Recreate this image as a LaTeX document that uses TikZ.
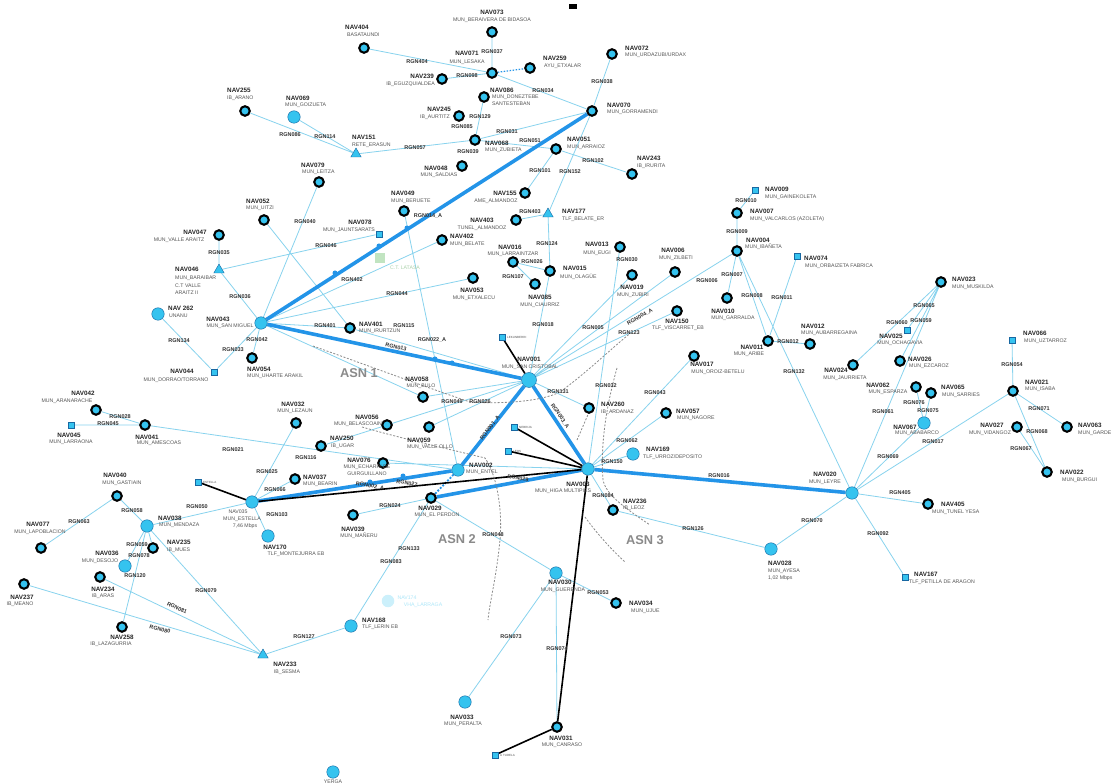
\documentclass[tikz,border=0pt]{standalone}
\usepackage{fontspec}
\setmainfont{Liberation Sans}
\usetikzlibrary{shapes.geometric}
\definecolor{ncyan}{HTML}{35C3EF}
\definecolor{thickb}{HTML}{2394E8}
\definecolor{thinb}{HTML}{88D3EE}
\definecolor{subg}{HTML}{555555}
\definecolor{asng}{HTML}{8A8A8A}
\pgfdeclarelayer{bg}
\pgfsetlayers{bg,main}
\newcounter{lc}
\newcommand\NT[4][center]{\stepcounter{lc}\node[nt,anchor=#1] (t\arabic{lc}) at (#2,#3) {#4};}
\newcommand\ST[4][center]{\stepcounter{lc}\node[st,anchor=#1] (s\arabic{lc}) at (#2,#3) {#4};}
\newcommand\RG[4][0]{\stepcounter{lc}\node[rg,rotate=#1] (r\arabic{lc}) at (#2,#3) {#4};}
\newcommand\BP[2]{\stepcounter{lc}\node[bump] (b\arabic{lc}) at (#1,#2) {};}
\tikzset{
 ring/.style={circle, draw=black, line width=2.1pt, fill=ncyan, minimum size=9.5pt, inner sep=0},
 big/.style={circle, draw=thickb!70!black, line width=0.4pt, fill=ncyan, minimum size=12.5pt, inner sep=0},
 sq/.style={rectangle, draw=thickb!70!black, line width=0.4pt, fill=ncyan, minimum size=6.5pt, inner sep=0},
 tri/.style={regular polygon, regular polygon sides=3, draw=thickb!70!black, line width=0.4pt, fill=ncyan, minimum size=12pt, inner sep=0},
 bump/.style={circle, fill=thickb, minimum size=5pt, inner sep=0},
 nt/.style={font=\bfseries\fontsize{6.3}{6.3}\selectfont, text=black!85, inner sep=0},
 st/.style={font=\fontsize{5.2}{5.2}\selectfont, text=subg, inner sep=0},
 rg/.style={font=\bfseries\fontsize{5.5}{5.5}\selectfont, text=black!80, inner sep=0.3pt},
 tiny/.style={font=\fontsize{3}{3}\selectfont, text=subg, inner sep=0},
 tl/.style={draw=thinb, line width=0.8pt},
 tk/.style={draw=thickb, line width=3.6pt},
 bk/.style={draw=black, line width=1.6pt},
 bdash/.style={draw=asng, line width=0.8pt, dash pattern=on 2pt off 1.6pt},
 asn/.style={font=\bfseries\fontsize{12.8}{12.8}\selectfont, text=asng, inner sep=0},
}
\begin{document}
\begin{tikzpicture}[x=1pt,y=-1pt]
\useasboundingbox (0,0) rectangle (1112,783);
\fill[black] (569,4) rectangle (577,9);
% ---------- nodes
\node[ring] (n073) at (492,32) {};
\node[ring] (n404) at (364,48) {};
\node[ring] (n071) at (492,73) {};
\node[ring] (n259) at (530,68) {};
\node[ring] (n239) at (442,79) {};
\node[ring] (n086) at (484,97) {};
\node[ring] (n245) at (459,116) {};
\node[ring] (n068) at (475,140) {};
\node[ring] (n048) at (462,166) {};
\node[big] (n069) at (294,117) {};
\node[ring] (n255) at (245,111) {};
\node[tri] (n151) at (356,154) {};
\node[ring] (n079) at (319,182) {};
\node[ring] (n072) at (612,54) {};
\node[ring] (n070) at (592,111) {};
\node[ring] (n051) at (556,149) {};
\node[ring] (n243) at (632,174) {};
\node[ring] (n155) at (525,193) {};
\node[ring] (n403) at (516,220) {};
\node[tri] (n177) at (548,214) {};
\node[ring] (n049) at (404,211) {};
\node[sq] (n078) at (379,234) {};
\node[ring] (n402) at (442,240) {};
\node[ring] (n016) at (513,262) {};
\node[ring] (n015) at (550,271) {};
\node[ring] (n053) at (473,278) {};
\node[ring] (n085) at (535,284) {};
\node[ring] (n013) at (620,247) {};
\node[ring] (n006) at (675,272) {};
\node[ring] (n019) at (632,275) {};
\node[ring] (n150) at (677,311) {};
\node[ring] (n010) at (727,298) {};
\node[ring] (n004) at (737,251) {};
\node[ring] (n007) at (737,213) {};
\node[sq] (n009) at (755,190) {};
\node[sq] (n074) at (797,256) {};
\node[ring] (n011) at (768,341) {};
\node[ring] (n012) at (810,344) {};
\node[ring] (n017) at (694,356) {};
\node[ring] (n260) at (589,408) {};
\node[ring] (n057) at (666,413) {};
\node[big] (n169) at (633,454) {};
\node[big] (n003) at (588,469) {};
\node[ring] (n236) at (613,510) {};
\node[big] (n020) at (852,493) {};
\node[ring] (n405) at (928,504) {};
\node[sq] (n167) at (905,577) {};
\node[big] (n028) at (771,549) {};
\node[ring] (n023) at (941,282) {};
\node[sq] (n025) at (907,330) {};
\node[ring] (n024) at (853,365) {};
\node[ring] (n026) at (900,361) {};
\node[ring] (n062) at (916,387) {};
\node[ring] (n065) at (931,393) {};
\node[big] (n067) at (924,423) {};
\node[sq] (n066) at (1012,340) {};
\node[ring] (n021) at (1013,391) {};
\node[ring] (n027) at (1017,427) {};
\node[ring] (n063) at (1067,427) {};
\node[ring] (n022) at (1047,472) {};
\node[ring] (n052) at (264,220) {};
\node[ring] (n047) at (219,235) {};
\node[tri] (n046) at (219,270) {};
\node[big] (n262) at (158,314) {};
\node[big] (n043) at (261,323) {};
\node[ring] (n054) at (252,358) {};
\node[sq] (n044) at (214,372) {};
\node[ring] (n401) at (350,328) {};
\node[big, minimum size=15pt] (n001) at (529,380) {};
\node[sq] (lek) at (502,337) {};
\node[ring] (n058) at (423,397) {};
\node[ring] (n056) at (387,425) {};
\node[ring] (n059) at (429,427) {};
\node[ring] (n032) at (296,423) {};
\node[ring] (n250) at (321,446) {};
\node[ring] (n076) at (383,463) {};
\node[ring] (n037) at (295,479) {};
\node[big] (n002) at (458,470) {};
\node[ring] (n029) at (431,498) {};
\node[big] (n035) at (252,502) {};
\node[sq] (est) at (198,482) {};
\node[sq] (neb) at (514,427) {};
\node[sq] (leo) at (508,451) {};
\node[ring] (n039) at (353,515) {};
\node[big] (n170) at (268,536) {};
\node[big] (n168) at (351,626) {};
\node[circle, fill=ncyan!25, minimum size=12.5pt, inner sep=0] (n174) at (388,601) {};
\node[rectangle, fill=green!40!gray!35, minimum size=10pt, inner sep=0] (lat) at (380,258) {};
\node[tri] (n233) at (263,655) {};
\node[ring] (n042) at (96,410) {};
\node[sq] (n045) at (71,425) {};
\node[ring] (n041) at (145,425) {};
\node[ring] (n040) at (117,496) {};
\node[big] (n038) at (147,526) {};
\node[ring] (n077) at (41,548) {};
\node[ring] (n235) at (153,548) {};
\node[big] (n036) at (125,566) {};
\node[ring] (n234) at (100,577) {};
\node[ring] (n237) at (24,584) {};
\node[ring] (n258) at (122,627) {};
\node[big] (n030) at (556,573) {};
\node[ring] (n034) at (616,603) {};
\node[big] (n033) at (465,702) {};
\node[ring] (n031) at (557,727) {};
\node[sq] (tud) at (495,755) {};
\node[big] (yer) at (333,772) {};
% ---------- edges
\begin{pgfonlayer}{bg}
\fill[white] (0,0) rectangle (1112,783);
\path[tl] (n073)--(n071) (n404)--(n071) (n239)--(n071) (n071)--(n070)
 (n086)--(n068) (n068)--(n070) (n068)--(n051) (n068)--(n151)
 (n255)--(n151) (n069)--(n151) (n072)--(n070) (n070)--(n177)
 (n051)--(n243) (n051)--(n155) (n403)--(n177) (n177)--(n015) (n016)--(n015)
 (n015)--(n001) (n016)--(n085)
 (n047)--(n046) (n046)--(n043) (n046)--(n078) (n079)--(n043) (n052)--(n401)
 (n043)--(n402) (n043)--(n053) (n043)--(n401) (n043)--(n054) (n043)--(n044) (n044)--(n262)
 (n049)--(n002) (n401)--(n001) (n043)--(n058)
 (n001)--(n006) (n001)--(n004) (n001)--(n150) (n001)--(n019)
 (n004)--(n007) (n007)--(n009) (n004)--(n010) (n004)--(n011) (n004)--(n020) (n074)--(n011) (n011)--(n012)
 (n013)--(n003) (n017)--(n003) (n057)--(n003) (n260)--(n001) (n169)--(n003)
 (n236)--(n003) (n236)--(n028) (n028)--(n020) (n020)--(n405) (n020)--(n167)
 (n020)--(n023) (n020)--(n067) (n020)--(n021) (n023)--(n025) (n023)--(n024) (n023)--(n026)
 (n067)--(n062) (n067)--(n065) (n021)--(n066) (n021)--(n063) (n021)--(n022) (n027)--(n022)
 (n029)--(n030) (n030)--(n034) (n030)--(n031) (n030)--(n033) (n029)--(n168)
 (n168)--(n233) (n233)--(n038) (n233)--(n234) (n233)--(n237)
 (n038)--(n258) (n038)--(n035) (n038)--(n040) (n038)--(n235) (n038)--(n036) (n040)--(n077)
 (n035)--(n170) (n035)--(n032) (n041)--(n002) (n042)--(n041) (n045)--(n041) (n035)--(n037)
 (n029)--(n039) (n056)--(n001) (n059)--(n001) (n058)--(n001) (n250)--(n001) (n076)--(n003);
\draw[thickb, line width=1.2pt, dash pattern=on 1.5pt off 1.5pt] (n071)--(n259);
\draw[thickb, line width=1.8pt, dash pattern=on 2pt off 1.5pt] (n002)--(n029);
\path[tk] (n043)--(n070) (n043)--(n001) (n001)--(n002) (n001)--(n003) (n003)--(n020) (n035)--(n002) (n029)--(n003);
\path[bk] (n035)--(n003) (est)--(n035) (lek)--(n001) (neb)--(n003) (leo)--(n003) (n003)--(n031) (tud)--(n031);
\path[bdash] (313,346) .. controls (380,370) and (420,385) .. (470,402) .. controls (500,404) and (540,402) .. (560,392) .. controls (590,370) and (615,345) .. (632,332);
\path[bdash] (362,427) .. controls (400,438) and (440,447) .. (485,458) .. controls (500,480) and (502,520) .. (500,540) .. controls (496,580) and (490,600) .. (488,620);
\path[bdash] (617,368) .. controls (608,400) and (600,440) .. (603,480) .. controls (606,495) and (625,508) .. (650,525);
\path[bdash] (577,440) -- (590,410);
\path[bdash] (585,517) .. controls (598,535) and (612,550) .. (625,562);
\BP{335}{273} \BP{379}{246} \BP{407}{228} \BP{435}{359} \BP{452}{363} \BP{370}{482} \BP{403}{476}
\end{pgfonlayer}
% ---------- node labels
\NT{492}{12}{NAV073} \ST{492}{20}{MUN\_BERAIVERA DE BIDASOA}
\NT[west]{345}{27}{NAV404} \ST[west]{347}{35}{BASATAUNDI}
\NT{467}{53}{NAV071} \ST{467}{62}{MUN\_LESAKA}
\NT[west]{543}{58}{NAV259} \ST[west]{544}{66}{AYU\_ETXALAR}
\NT[east]{434}{76}{NAV239} \ST[east]{435}{84}{IB\_EGUZQUIALDEA}
\NT[west]{490}{90}{NAV086} \ST[west]{492}{97}{MUN\_DONEZTEBE} \ST[west]{492}{104}{SANTESTEBAN}
\NT[east]{451}{109}{NAV245} \ST[east]{450}{117}{IB\_AURTITZ}
\NT[west]{485}{143}{NAV068} \ST[west]{485}{150}{MUN\_ZUBIETA}
\NT{436}{168}{NAV048} \ST{439}{175}{MUN\_SALDIAS}
\NT[west]{286}{98}{NAV069} \ST[west]{285}{105}{MUN\_GOIZUETA}
\NT[west]{227}{90}{NAV255} \ST[west]{227}{98}{IB\_ARANO}
\NT[west]{352}{137}{NAV151} \ST[west]{352}{145}{RETE\_ERASUN}
\NT[west]{301}{165}{NAV079} \ST[west]{302}{172}{MUN\_LEITZA}
\NT[west]{391}{193}{NAV049} \ST[west]{391}{201}{MUN\_BERUETE}
\NT{360}{222}{NAV078} \ST{349}{230}{MUN\_JAUNTSARATS}
\NT[west]{450}{236}{NAV402} \ST[west]{450}{244}{MUN\_BELATE}
\NT{482}{220}{NAV403} \ST{482}{228}{TUNEL\_ALMANDOZ}
\NT{505}{193}{NAV155} \ST{496}{201}{AME\_ALMANDOZ}
\NT[west]{562}{211}{NAV177} \ST[west]{562}{219}{TLF\_BELATE\_ER}
\NT{510}{247}{NAV016} \ST{513}{254}{MUN\_LARRAINTZAR}
\NT[west]{625}{48}{NAV072} \ST[west]{625}{55}{MUN\_URDAZUBI/URDAX}
\NT[west]{607}{105}{NAV070} \ST[west]{607}{112}{MUN\_GORRAMENDI}
\NT[west]{567}{139}{NAV051} \ST[west]{567}{147}{MUN\_ARRAIOZ}
\NT[west]{637}{158}{NAV243} \ST[west]{637}{166}{IB\_IRURITA}
\NT[west]{765}{189}{NAV009} \ST[west]{765}{197}{MUN\_GAINEKOLETA}
\NT[west]{750}{211}{NAV007} \ST[west]{750}{219}{MUN\_VALCARLOS (AZOLETA)}
\NT[west]{746}{240}{NAV004} \ST[west]{745}{247}{MUN\_IBAÑETA}
\NT[west]{804}{258}{NAV074} \ST[west]{805}{266}{MUN\_ORBAIZETA FABRICA}
\NT{597}{244}{NAV013} \ST{597}{253}{MUN\_EUGI}
\NT{673}{250}{NAV006} \ST{676}{258}{MUN\_ZILBETI}
\NT[west]{563}{268}{NAV015} \ST[west]{560}{277}{MUN\_OLAGÜE}
\NT{632}{287}{NAV019} \ST{633}{295}{MUN\_ZUBIRI}
\NT{677}{321}{NAV150} \ST{678}{328}{TLF\_VISCARRET\_EB}
\NT{723}{311}{NAV010} \ST{733}{318}{MUN\_GARRALDA}
\NT{752}{347}{NAV011} \ST{749}{354}{MUN\_ARIBE}
\NT[west]{801}{326}{NAV012} \ST[west]{801}{333}{MUN\_AUBARREGAINA}
\NT{702}{364}{NAV017} \ST{718}{372}{MUN\_OROIZ-BETELU}
\NT[west]{601}{404}{NAV260} \ST[west]{601}{412}{IB\_ARDANAZ}
\NT[west]{676}{411}{NAV057} \ST[west]{677}{418}{MUN\_NAGORE}
\NT[west]{646}{449}{NAV169} \ST[west]{643}{457}{TLF\_URROZ/DEPOSITO}
\NT{578}{484}{NAV003} \ST{563}{491}{MUN\_HIGA MULTIPIES}
\NT[west]{623}{501}{NAV236} \ST[west]{623}{508}{IB\_LEOZ}
\NT{825}{474}{NAV020} \ST{825}{482}{MUN\_LEYRE}
\NT[west]{941}{504}{NAV405} \ST[west]{932}{512}{MUN\_TUNEL YESA}
\NT[west]{914}{574}{NAV167} \ST[west]{909}{582}{TLF\_PETILLA DE ARAGON}
\NT[west]{768}{563}{NAV028} \ST[west]{768}{571}{MUN\_AYESA} \ST[west]{768}{578}{1,02 Mbps}
\NT[west]{952}{279}{NAV023} \ST[west]{952}{287}{MUN\_MUSKILDA}
\NT{891}{336}{NAV025} \ST{900}{343}{MUN\_OCHAGAVIA}
\NT{836}{370}{NAV024} \ST{845}{378}{MUN\_JAURRIETA}
\NT[west]{908}{359}{NAV026} \ST[west]{909}{366}{MUN\_EZCAROZ}
\NT{878}{385}{NAV062} \ST{888}{392}{MUN\_ESPARZA}
\NT[west]{941}{387}{NAV065} \ST[west]{942}{395}{MUN\_SARRIES}
\NT{905}{427}{NAV067} \ST{917}{433}{MUN\_ABABARCO}
\NT[west]{1023}{333}{NAV066} \ST[west]{1024}{341}{MUN\_UZTARROZ}
\NT[west]{1025}{382}{NAV021} \ST[west]{1025}{389}{MUN\_ISABA}
\NT{992}{425}{NAV027} \ST{990}{433}{MUN\_VIDANGOZ}
\NT[west]{1078}{425}{NAV063} \ST[west]{1078}{433}{MUN\_GARDE}
\NT[west]{1060}{472}{NAV022} \ST[west]{1062}{480}{MUN\_BURGUI}
\NT[west]{246}{201}{NAV052} \ST[west]{246}{208}{MUN\_UITZI}
\NT{195}{232}{NAV047} \ST{179}{240}{MUN\_VALLE ARAITZ}
\NT[west]{175}{269}{NAV046} \ST[west]{175}{278}{MUN\_BARAIBAR} \ST[west]{175}{286}{C.T VALLE} \ST[west]{175}{293}{ARAITZ II}
\NT[west]{168}{308}{NAV 262} \ST[west]{169}{316}{UNANU}
\NT{218}{319}{NAV043} \ST{230}{326}{MUN\_SAN MIGUEL}
\NT[west]{247}{369}{NAV054} \ST[west]{247}{376}{MUN\_UHARTE ARAKIL}
\NT{182}{371}{NAV044} \ST{176}{380}{MUN\_DORRAO/TORRANO}
\NT{83}{393}{NAV042} \ST{67}{401}{MUN\_ARANARACHE}
\NT{69}{435}{NAV045} \ST{71}{442}{MUN\_LARRAONA}
\NT{147}{437}{NAV041} \ST{159}{443}{MUN\_AMESCOAS}
\NT{115}{475}{NAV040} \ST{122}{483}{MUN\_GASTIAIN}
\ST{238}{512}{NAV035} \ST{242}{519}{MUN\_ESTELLA} \ST{245}{526}{7,46 Mbps}
\NT{38}{524}{NAV077} \ST{40}{532}{MUN\_LAPOBLACION}
\NT[west]{158}{518}{NAV038} \ST[west]{159}{525}{MUN\_MENDAZA}
\NT[west]{167}{542}{NAV235} \ST[west]{167}{550}{IB\_MUES}
\NT{107}{553}{NAV036} \ST{100}{561}{MUN\_DESOJO}
\NT{103}{589}{NAV234} \ST{103}{596}{IB\_ARAS}
\NT{22}{597}{NAV237} \ST{20}{604}{IB\_MEANO}
\NT{122}{637}{NAV258} \ST{111}{644}{IB\_LAZAGURRIA}
\NT{285}{664}{NAV233} \ST{287}{672}{IB\_SESMA}
\NT{275}{547}{NAV170} \ST{296}{554}{TLF\_MONTEJURRA EB}
\NT[west]{362}{620}{NAV168} \ST[west]{362}{627}{TLF\_LERIN EB}
\NT{353}{529}{NAV039} \ST{359}{536}{MUN\_MAÑERU}
\NT{430}{508}{NAV029} \ST{437}{515}{MUN\_EL PERDON}
\NT[west]{469}{465}{NAV002} \ST[west]{466}{472}{MUN\_ENTEL}
\NT[west]{303}{477}{NAV037} \ST[west]{303}{484}{MUN\_BEARIN}
\NT{359}{460}{NAV076} \ST{367}{467}{MUN\_ECHARRI DE} \ST{367}{474}{GUIRGUILLANO}
\NT[west]{330}{438}{NAV250} \ST[west]{331}{446}{IB\_UGAR}
\NT{293}{404}{NAV032} \ST{295}{411}{MUN\_LEZAUN}
\NT{367}{417}{NAV056} \ST{358}{424}{MUN\_BELASCOAIN}
\NT{419}{440}{NAV059} \ST{430}{447}{MUN\_VALLE OLLO}
\NT{417}{379}{NAV058} \ST{421}{386}{MUN\_BULO}
\NT{529}{359}{NAV001} \ST{530}{367}{MUN\_SAN CRISTOBAL}
\NT[west]{359}{324}{NAV401} \ST[west]{359}{331}{MUN\_IRURTZUN}
\NT{472}{290}{NAV053} \ST{474}{298}{MUN\_ETXALECU}
\NT{540}{297}{NAV085} \ST{540}{305}{MUN\_CIAURRIZ}
\NT{560}{582}{NAV030} \ST{563}{590}{MUN\_GUERENDA}
\NT[west]{629}{603}{NAV034} \ST[west]{631}{611}{MUN\_UJUE}
\NT{462}{717}{NAV033} \ST{463}{724}{MUN\_PERALTA}
\NT{561}{738}{NAV031} \ST{562}{745}{MUN\_CANRASO}
\ST{333}{782}{YERGA}
\node[st, text=ncyan!40] (t174a) at (407,598) {NAV174};
\node[st, text=ncyan!40] (t174b) at (423,605) {VHA\_LARRAGA};
\node[st, text=green!30!gray!50] (tlat) at (405,268) {C.T. LATASA};
\node[tiny, anchor=west] (tlek) at (507,337) {LEKUNBERRI};
\node[tiny, anchor=west] (test) at (203,482) {ESTELLA};
\node[tiny, anchor=west] (tneb) at (519,427) {NEBRIJA};
\node[tiny, anchor=west] (tleo) at (513,451) {LEOS};
\node[tiny, anchor=west] (ttud) at (500,755) {A TUDELA};
% ---------- ASN
\node[asn] (asn1) at (359,373) {ASN 1};
\node[asn] (asn2) at (457,539) {ASN 2};
\node[asn] (asn3) at (645,540) {ASN 3};
% ---------- link labels
\RG{492}{52}{RGN037} \RG{417}{62}{RGN404} \RG{467}{76}{RGN098} \RG{543}{91}{RGN034}
\RG{480}{117}{RGN129} \RG{462}{127}{RGN085} \RG{507}{132}{RGN031} \RG{530}{141}{RGN051}
\RG{468}{152}{RGN039} \RG{290}{135}{RGN086} \RG{325}{137}{RGN114} \RG{415}{148}{RGN057}
\RG{602}{82}{RGN038} \RG{593}{161}{RGN102} \RG{570}{172}{RGN152} \RG{540}{171}{RGN101}
\RG{530}{212}{RGN403} \RG{547}{244}{RGN124} \RG{532}{262}{RGN026} \RG{513}{277}{RGN107}
\RG{746}{201}{RGN010} \RG{737}{232}{RGN009} \RG{627}{260}{RGN030} \RG{707}{281}{RGN006}
\RG{732}{275}{RGN007} \RG{752}{296}{RGN008} \RG{782}{298}{RGN011} \RG{593}{328}{RGN005}
\RG{629}{333}{RGN123} \RG[30]{640}{317}{RGN004\_A} \RG{788}{342}{RGN012} \RG{794}{372}{RGN132}
\RG{606}{386}{RGN032} \RG{655}{393}{RGN043} \RG{558}{392}{RGN131} \RG{627}{441}{RGN062}
\RG{612}{462}{RGN150} \RG{719}{476}{RGN016} \RG{603}{496}{RGN084} \RG{883}{412}{RGN061}
\RG{888}{457}{RGN069} \RG{933}{442}{RGN017} \RG{900}{493}{RGN405} \RG{924}{306}{RGN065}
\RG{897}{323}{RGN060} \RG{921}{321}{RGN059} \RG{914}{403}{RGN076} \RG{928}{411}{RGN075}
\RG{1012}{365}{RGN054} \RG{1039}{409}{RGN071} \RG{1037}{432}{RGN068} \RG{1021}{449}{RGN067}
\RG{878}{534}{RGN092} \RG{812}{521}{RGN070} \RG{693}{529}{RGN126} \RG{598}{593}{RGN053}
\RG{511}{637}{RGN073} \RG{557}{649}{RGN074} \RG{493}{535}{RGN048} \RG{409}{549}{RGN133}
\RG{391}{562}{RGN083} \RG{304}{637}{RGN127} \RG{206}{591}{RGN079} \RG[-25]{177}{608}{RGN081}
\RG[-15]{160}{629}{RGN080} \RG{135}{576}{RGN120} \RG{139}{556}{RGN078} \RG{137}{545}{RGN059}
\RG{79}{522}{RGN063} \RG{132}{511}{RGN058} \RG{197}{507}{RGN050} \RG{277}{515}{RGN103}
\RG{275}{490}{RGN066} \RG{267}{472}{RGN025} \RG{233}{450}{RGN021} \RG{120}{417}{RGN028}
\RG{108}{424}{RGN045} \RG{179}{341}{RGN134} \RG{233}{350}{RGN033} \RG{257}{340}{RGN042}
\RG{240}{297}{RGN036} \RG{219}{253}{RGN035} \RG{305}{222}{RGN040} \RG{326}{246}{RGN046}
\RG{428}{216}{RGN014\_A} \RG{352}{280}{RGN402} \RG{397}{294}{RGN044} \RG{325}{326}{RGN401}
\RG{404}{326}{RGN115} \RG{432}{340}{RGN022\_A} \RG[-12]{396}{347}{RGN013} \RG{543}{325}{RGN018}
\RG{306}{458}{RGN116} \RG[-10]{407}{483}{RGN027} \RG[-10]{370}{486}{RGN002\_A} \RG{390}{506}{RGN024}
\RG{452}{402}{RGN049} \RG{480}{402}{RGN026} \RG[52]{490}{428}{RGN001\_A} \RG[-56]{560}{416}{RGN003\_A}
\RG[-10]{518}{478}{RGN029}
\end{tikzpicture}
\end{document}
